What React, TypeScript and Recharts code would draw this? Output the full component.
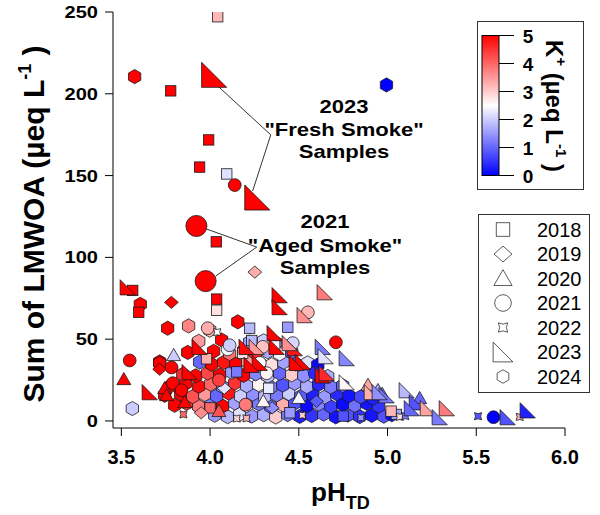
import { ScatterChart, Scatter, XAxis, YAxis, ReferenceLine } from 'recharts';

// K+ colour scale: 0 = blue, 2.5 = white, 5 = red
const kMax = 5;

const ph2018 = [4.043, 3.778, 3.992, 3.941, 4.094, 4.035, 4.037, 4.037, 3.564, 3.598, 4.223, 4.438, 4.235, 4.364, 4.184, 3.98, 4.15, 4.33, 4.0, 4.45, 4.75, 5.05, 5.02];
const lmwoa2018 = [247.1, 201.8, 171.8, 155.2, 151.0, 109.5, 74.5, 67.7, 79.8, 66.4, 56.7, 57.3, 49.2, 46.3, 41.4, 38.0, 30.0, 20.0, 8.0, 5.0, 3.0, 4.0, 6.0];
const k2018 = [3.2, 5, 5, 5, 2.2, 5, 5, 2.8, 5, 5, 1.8, 1.5, 1.8, 2.6, 2.8, 3.3, 1.2, 2.3, 4.0, 1.5, 0.8, 1.6, 3.2];

const ph2019 = [4.252, 3.782, 3.716, 4.08, 4.35, 3.95, 4.6];
const lmwoa2019 = [91.0, 72.5, 31.6, 20.0, 8.0, 5.0, 12.0];
const k2019 = [3.3, 5, 5, 2.2, 1.4, 3.6, 0.9];

const ph2020 = [3.514, 3.795, 3.744, 3.755, 3.857, 4.89, 4.97, 5.181, 4.946, 4.3, 4.5, 4.05];
const lmwoa2020 = [25.5, 40.2, 20.0, 15.7, 11.4, 22.0, 16.5, 13.9, 18.8, 12.0, 14.0, 6.0];
const k2020 = [5, 2.0, 5, 5, 5, 3.4, 1.2, 1.0, 1.6, 2.6, 2.4, 4.2];

const ph2021 = [4.139, 4.709, 3.547, 4.551, 3.987, 4.099, 5.597, 3.783, 3.79, 3.839, 4.28, 4.319, 4.466, 4.11, 4.59, 4.297, 4.2, 4.05];
const lmwoa2021 = [144.2, 48.1, 37.0, 66.4, 56.7, 43.8, 2.3, 32.7, 23.1, 18.8, 35.5, 29.2, 47.6, 46.3, 29.2, 45.3, 10.0, 25.0];
const k2021 = [5, 5, 5, 3.2, 3.3, 2.4, 0, 5, 5, 5, 2.5, 2.6, 2.1, 2.0, 0.4, 3.1, 3.8, 4.4];

const ph2022 = [5.51, 5.745, 5.069, 4.205, 4.04, 4.15, 4.52, 4.85, 5.1, 3.85];
const lmwoa2022 = [2.9, 2.5, 2.5, 1.6, 54.3, 1.5, 3.5, 2.0, 3.0, 4.0];
const k2022 = [0.8, 3.3, 2.8, 3.2, 2.5, 2.9, 3.0, 1.5, 1.2, 4.0];

const ph2023 = [3.536, 4.392, 4.392, 4.533, 4.646, 4.364, 4.477, 4.263, 4.28, 4.522, 4.635, 4.651, 4.77, 4.635, 4.77, 4.206, 3.941, 3.885, 3.66, 4.488, 4.234, 4.375, 4.657, 4.449, 5.108, 5.165, 5.227, 5.334, 4.995, 4.911, 4.956, 5.137, 5.294, 5.677, 5.79];
const lmwoa2023 = [81.7, 76.9, 69.6, 64.7, 78.7, 53.7, 44.5, 45.3, 35.5, 36.1, 45.3, 39.6, 38.4, 27.9, 23.6, 45.3, 45.3, 29.9, 17.6, 35.5, 34.3, 45.3, 29.2, 47.6, 18.8, 11.4, 7.8, 7.8, 15.7, 17.6, 17.6, 7.8, 2.3, 2.3, 6.5];
const k2023 = [5, 5, 5, 3.6, 3.8, 5, 4.8, 3.5, 5, 5, 1.2, 2.2, 1.3, 5, 2.6, 4.9, 5, 5, 5, 5, 5, 5, 4.6, 3.6, 1.8, 0.8, 3.4, 3.8, 1.2, 3.3, 1.4, 1.0, 1.2, 0.8, 0.3];

const ph2024 = [
  3.575, 4.994, 3.607, 3.761, 3.879, 4.156, 3.998, 3.562, 3.716,
  4.026, 4.099, 4.167, 4.234, 4.302, 4.37, 4.437, 4.505, 4.573, 4.64, 4.708, 4.776, 4.843, 4.911, 4.979, 5.024,
  3.8, 3.868, 3.936, 4.003, 4.071, 4.139, 4.206, 4.274, 4.342, 4.409, 4.477, 4.545, 4.612, 4.68, 4.747, 4.815, 4.883, 4.95,
  3.744, 3.834, 3.902, 3.97, 4.037, 4.105, 4.172, 4.24, 4.308, 4.375, 4.443, 4.511, 4.578, 4.646, 4.713, 4.782, 4.849, 4.917,
  3.784, 3.862, 3.936, 4.003, 4.071, 4.139, 4.206, 4.274, 4.342, 4.409, 4.477, 4.545, 4.612, 4.68, 4.747,
  3.846, 3.919, 3.986, 4.054, 4.122, 4.189, 4.257, 4.325, 4.392, 4.46, 4.528, 4.595, 4.663,
  3.716, 3.941, 4.009, 4.077, 4.144, 4.212, 4.28, 4.347, 4.415, 4.483, 4.55, 4.607,
  3.874, 4.02, 4.11, 4.189, 4.257, 4.325, 4.392, 4.46,
  3.936, 4.065, 4.223, 4.302, 4.37,
];
const lmwoa2024 = [
  210.5, 205.4, 71.3, 56.7, 58.1, 60.6, 55.5, 7.6, 36.1,
  3.5, 2.6, 4.1, 3.0, 3.8, 2.4, 3.9, 2.8, 3.3, 4.2, 2.5, 3.6, 2.7, 3.4, 2.9, 3.8,
  9.6, 10.8, 8.9, 10.2, 9.1, 11.0, 9.4, 10.5, 8.7, 9.9, 10.9, 9.2, 10.3, 8.8, 10.1, 9.5, 10.7, 9.0,
  15.7, 16.5, 14.9, 16.2, 15.3, 17.0, 15.1, 16.4, 14.8, 15.9, 16.8, 15.0, 16.1, 14.6, 16.6, 15.4, 14.7, 13.9,
  21.8, 22.9, 21.2, 22.5, 20.9, 23.1, 21.5, 22.2, 20.6, 21.9, 23.0, 21.0, 22.4, 20.8, 21.6,
  28.5, 27.6, 29.3, 28.0, 29.8, 27.9, 28.8, 27.4, 29.1, 28.2, 27.7, 29.5, 27.2,
  35.2, 36.0, 34.6, 35.8, 34.9, 36.3, 35.1, 34.4, 35.9, 34.8, 35.5, 34.2,
  41.9, 42.6, 41.2, 42.9, 41.5, 42.3, 41.0, 42.0,
  48.7, 49.5, 48.2, 49.0, 47.8,
];
const k2024 = [
  5, 0, 5, 5, 3.7, 5, 3.2, 2.0, 5,
  1.5, 1.8, 2.2, 1.5, 1.7, 3.0, 1.2, 0.3, 0.5, 1.0, 0.2, 0.8, 0.5, 0.2, 0.8, 0.1,
  5, 4.5, 3.8, 1.2, 5, 1.6, 2.8, 1.2, 1.0, 3.3, 0.8, 0.1, 1.3, 0.6, 0.1, 1.1, 0.2, 0.5,
  5, 5, 4.2, 3.5, 1.0, 4.8, 2.0, 1.4, 1.8, 1.2, 2.0, 0.9, 0.3, 1.5, 0.4, 0.2, 0.7, 0.3,
  5, 5, 4.9, 4.0, 1.3, 4.5, 1.7, 2.6, 1.3, 0.8, 1.5, 1.7, 0.4, 1.2, 1.0,
  4.6, 5, 4.3, 5, 1.5, 5, 1.3, 1.9, 1.0, 3.0, 1.4, 0.2, 1.7,
  5, 1.0, 5, 4.8, 5, 3.4, 1.5, 2.8, 1.6, 1.2, 2.2, 0.1,
  5, 5, 3.9, 5, 4.6, 1.7, 2.4, 1.1,
  3.5, 5, 1.5, 2.0, 1.4,
];

// highlighted samples
const phFresh = [4.023, 4.266];
const lmwoaFresh = [211.6, 136.6];
const kFresh = [5, 5];
const phAged = [3.923, 3.975];
const lmwoaAged = [119.2, 85.5];
const kAged = [5, 5];

const legendYears = ['2018', '2019', '2020', '2021', '2022', '2023', '2024'];
const legendShapes = ['square', 'diamond', 'triangle', 'circle', 'star', 'rtri', 'hexagon'];
const xTicks = [3.5, 4.0, 4.5, 5.0, 5.5, 6.0];
const yTicks = [0, 50, 100, 150, 200, 250];
const cbTicks = [0, 1, 2, 3, 4, 5];

const FONT = 'Arial, "Liberation Sans", sans-serif';

function rows(ph: number[], y: number[], k: number[]) {
  return ph.map((p, i) => ({ ph: p, lmwoa: y[i], k: k[i] }));
}

function kColor(k: number) {
  const t = Math.max(0, Math.min(kMax, k)) / kMax;
  if (t < 0.5) {
    const s = Math.round((t / 0.5) * 255);
    return `rgb(${s},${s},255)`;
  }
  const s = Math.round((1 - (t - 0.5) / 0.5) * 255);
  return `rgb(255,${s},${s})`;
}

function Marker({ kind, cx, cy, fill, scale = 1, stroke = '#1a1a1a' }: any) {
  const common = { fill, stroke, strokeWidth: 0.8 };
  if (kind === 'square') {
    const s = 5.2 * scale;
    return <rect x={cx - s} y={cy - s} width={2 * s} height={2 * s} {...common} />;
  }
  if (kind === 'diamond') {
    const w = 6.9 * scale;
    const h = 6.1 * scale;
    return <polygon points={`${cx},${cy - h} ${cx + w},${cy} ${cx},${cy + h} ${cx - w},${cy}`} {...common} />;
  }
  if (kind === 'triangle') {
    const w = 7 * scale;
    return <polygon points={`${cx},${cy - 6.8 * scale} ${cx + w},${cy + 5.4 * scale} ${cx - w},${cy + 5.4 * scale}`} {...common} />;
  }
  if (kind === 'circle') {
    return <circle cx={cx} cy={cy} r={6.4 * scale} {...common} />;
  }
  if (kind === 'star') {
    const a = 3.6 * scale;
    const b = 1.6 * scale;
    const d = `M${cx - a},${cy - a} Q${cx},${cy - b} ${cx + a},${cy - a} Q${cx + b},${cy} ${cx + a},${cy + a} Q${cx},${cy + b} ${cx - a},${cy + a} Q${cx - b},${cy} ${cx - a},${cy - a} Z`;
    return <path d={d} {...common} />;
  }
  if (kind === 'rtri') {
    const h = 7.6 * scale;
    return <polygon points={`${cx - h},${cy - h} ${cx - h},${cy + h} ${cx + h},${cy + h}`} {...common} />;
  }
  // hexagon, pointy top
  const r = 7.1 * scale;
  const pts = [-90, -30, 30, 90, 150, 210]
    .map((a) => `${cx + r * Math.cos((a * Math.PI) / 180)},${cy + r * Math.sin((a * Math.PI) / 180)}`)
    .join(' ');
  return <polygon points={pts} {...common} />;
}

function shapeFor(kind: string, scale = 1) {
  return (props: any) => (
    <Marker kind={kind} cx={props.cx} cy={props.cy} fill={kColor(props.payload.k)} scale={scale} />
  );
}

function YTick({ x, y, payload }: any) {
  return (
    <g transform={`translate(${x},${y}) scale(1.18,1)`}>
      <text x={0} y={0} dy={6} textAnchor="end" fontFamily={FONT} fontWeight="bold" fontSize={17} fill="#000">
        {payload.value}
      </text>
    </g>
  );
}

function XTick({ x, y, payload }: any) {
  return (
    <text x={x} y={y} dy={14} textAnchor="middle" fontFamily={FONT} fontWeight="bold" fontSize={20} fill="#000">
      {Number(payload.value).toFixed(1)}
    </text>
  );
}

function Note({ x, y, children }: any) {
  return (
    <text transform={`translate(${x},${y}) scale(1.16,1)`} textAnchor="middle" fontFamily={FONT} fontWeight="bold" fontSize={19} fill="#000">
      {children}
    </text>
  );
}

const series = [
  { name: '2024', kind: 'hexagon', data: rows(ph2024, lmwoa2024, k2024) },
  { name: '2018', kind: 'square', data: rows(ph2018, lmwoa2018, k2018) },
  { name: '2019', kind: 'diamond', data: rows(ph2019, lmwoa2019, k2019) },
  { name: '2020', kind: 'triangle', data: rows(ph2020, lmwoa2020, k2020) },
  { name: '2021', kind: 'circle', data: rows(ph2021, lmwoa2021, k2021) },
  { name: '2022', kind: 'star', data: rows(ph2022, lmwoa2022, k2022) },
  { name: '2023', kind: 'rtri', data: rows(ph2023, lmwoa2023, k2023) },
];

function Overlay() {
  const cbTop = 35.5;
  const cbBottom = 175.5;
  return (
    <svg width={600} height={515} style={{ position: 'absolute', left: 0, top: 0, pointerEvents: 'none' }}>
      <defs>
        <linearGradient id="kgrad" x1="0" y1="1" x2="0" y2="0">
          <stop offset="0" stopColor="#0000ff" />
          <stop offset="0.5" stopColor="#ffffff" />
          <stop offset="1" stopColor="#ff0000" />
        </linearGradient>
      </defs>

      {/* axis titles */}
      <text transform="translate(44,224) rotate(-90)" textAnchor="middle" fontFamily={FONT} fontWeight="bold" fontSize={30} fill="#000">
        Sum of LMWOA (µeq L<tspan dy={-13} fontSize={18}>-1</tspan><tspan dy={13}> )</tspan>
      </text>
      <text x={311} y={501} fontFamily={FONT} fontWeight="bold" fontSize={26} fill="#000">
        pH<tspan dy={8} fontSize={18}>TD</tspan>
      </text>

      {/* annotations */}
      <Note x={344} y={113}>2023</Note>
      <Note x={344} y={136}>"Fresh Smoke"</Note>
      <Note x={344} y={158}>Samples</Note>
      <Note x={325} y={228}>2021</Note>
      <Note x={325} y={252}>"Aged Smoke"</Note>
      <Note x={325} y={274}>Samples</Note>

      {/* colour bar */}
      <rect x={477.5} y={21.5} width={106} height={168} fill="#fff" stroke="#333" />
      <rect x={482} y={cbTop} width={17} height={cbBottom - cbTop} fill="url(#kgrad)" stroke="#000" strokeWidth={1} />
      {cbTicks.map((t) => {
        const y = cbBottom - (t / kMax) * (cbBottom - cbTop);
        return (
          <g key={t}>
            <line x1={499} x2={514} y1={y} y2={y} stroke="#000" />
            <text x={528} y={y + 7} textAnchor="middle" fontFamily={FONT} fontWeight="bold" fontSize={19} fill="#000">
              {t}
            </text>
          </g>
        );
      })}
      <text transform="translate(546,40) rotate(90)" fontFamily={FONT} fontWeight="bold" fontSize={24} fill="#000">
        K<tspan dy={-10} fontSize={15}>+</tspan><tspan dy={10}> (µeq L</tspan><tspan dy={-10} fontSize={15}>-1</tspan><tspan dy={10}> )</tspan>
      </text>

      {/* year legend */}
      <rect x={478.5} y={214.5} width={111} height={178} fill="#fff" stroke="#333" />
      {legendYears.map((yr, i) => {
        const y = 229.5 + i * 24.5;
        return (
          <g key={yr}>
            <Marker kind={legendShapes[i]} cx={503} cy={y} fill="#fff" stroke="#333" scale={legendShapes[i] === 'hexagon' ? 0.95 : 1.3} />
            <text x={537} y={y + 7} fontFamily={FONT} fontSize={20} fill="#000">
              {yr}
            </text>
          </g>
        );
      })}
    </svg>
  );
}

export default function App() {
  return (
    <div style={{ position: 'absolute', left: 0, top: 0, width: 600, height: 515, background: '#fff' }}>
      <ScatterChart width={600} height={515} margin={{ top: 12, right: 35, bottom: 47, left: 53 }}>
        <XAxis
          type="number"
          dataKey="ph"
          domain={[3.453, 6.0]}
          ticks={xTicks}
          allowDataOverflow
          height={40}
          tickSize={8}
          tickMargin={14}
          stroke="#000"
          tick={<XTick />}
        />
        <YAxis
          type="number"
          dataKey="lmwoa"
          domain={[-4.3, 250]}
          ticks={yTicks}
          allowDataOverflow
          width={60}
          tickSize={8}
          tickMargin={7}
          stroke="#000"
          tick={<YTick />}
        />
        {series.map((s) => (
          <Scatter key={s.name} name={s.name} data={s.data} shape={shapeFor(s.kind)} isAnimationActive={false} />
        ))}
        <ReferenceLine segment={[{ x: 4.043, y: 204.8 }, { x: 4.342, y: 174.9 }]} stroke="#333" strokeWidth={1} />
        <ReferenceLine segment={[{ x: 4.342, y: 174.9 }, { x: 4.24, y: 140.6 }]} stroke="#333" strokeWidth={1} />
        <ReferenceLine segment={[{ x: 3.981, y: 117.3 }, { x: 4.263, y: 106.3 }]} stroke="#333" strokeWidth={1} />
        <ReferenceLine segment={[{ x: 4.263, y: 106.3 }, { x: 4.032, y: 88.6 }]} stroke="#333" strokeWidth={1} />
        <Scatter name="fresh" data={rows(phFresh, lmwoaFresh, kFresh)} shape={shapeFor('rtri', 1.65)} isAnimationActive={false} />
        <Scatter name="aged" data={rows(phAged, lmwoaAged, kAged)} shape={shapeFor('circle', 1.65)} isAnimationActive={false} />
      </ScatterChart>
      <Overlay />
    </div>
  );
}
